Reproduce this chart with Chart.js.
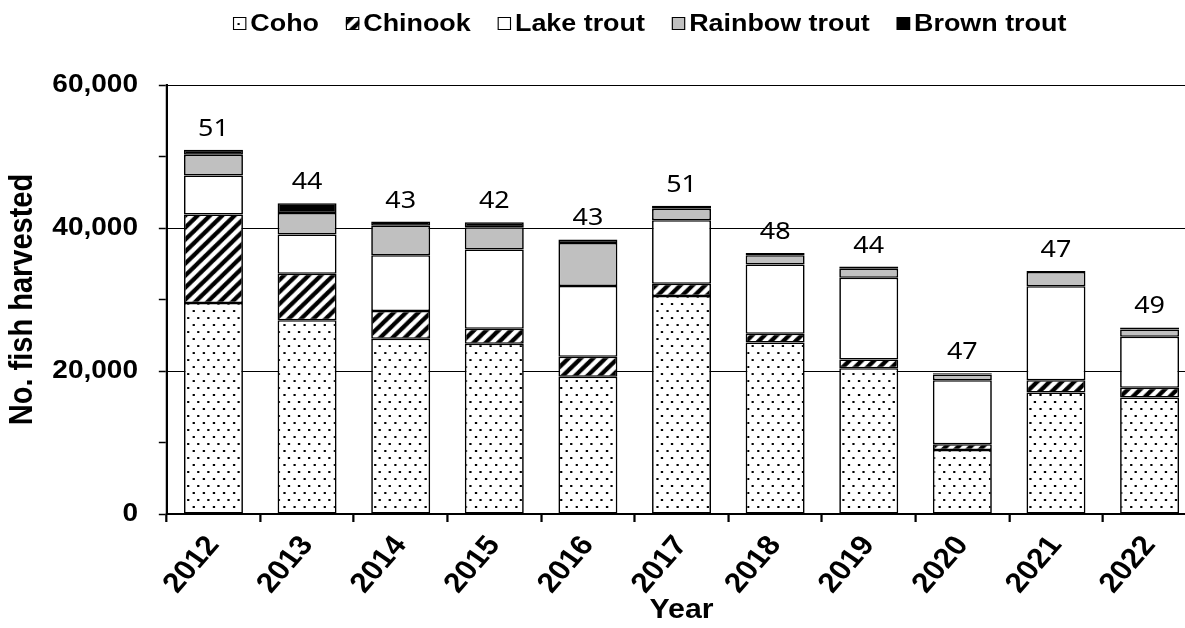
<!DOCTYPE html>
<html>
<head>
<meta charset="utf-8">
<title>No. fish harvested by species</title>
<script src="https://cdn.jsdelivr.net/npm/chart.js@4.4.1/dist/chart.umd.min.js"></script>
<style>
  html, body { margin: 0; padding: 0; background: #fff; overflow: hidden; }
  #wrap { width: 1185px; height: 628px; overflow: hidden; }
</style>
</head>
<body>
<div id="wrap"><canvas id="harvestChart" width="1185" height="628"></canvas></div>
<script>
// Values
const years = ['2012', '2013', '2014', '2015', '2016', '2017', '2018', '2019', '2020', '2021', '2022'];
const coho = [29500, 27100, 24500, 23800, 19200, 30500, 24000, 20400, 8950, 17000, 16300];
const chinook = [12400, 6500, 3900, 2100, 2800, 1700, 1200, 1200, 800, 1700, 1350];
const lakeTrout = [5450, 5500, 7800, 11100, 9900, 8900, 9700, 11450, 8950, 13150, 7150];
const rainbowTrout = [2900, 3000, 4100, 3100, 6000, 1600, 1300, 1250, 800, 2000, 1000];
const brownTrout = [700, 1350, 600, 700, 500, 400, 300, 300, 200, 150, 300];
const barTopLabels = [51, 44, 43, 42, 43, 51, 48, 44, 47, 47, 49];
const yLabelValues = [0, 20000, 40000, 60000];

// The picture is drawn a bit wider than it is tall
const X_STRETCH = 1.12;

Chart.defaults.font.family = '"Liberation Sans", Arial, sans-serif';
Chart.defaults.color = '#000';

// Fill patterns (Excel-like)
function makeDotPattern() {
  const c = document.createElement('canvas');
  c.width = 9;
  c.height = 14;
  const g = c.getContext('2d');
  g.fillStyle = '#fff';
  g.fillRect(0, 0, 9, 14);
  g.fillStyle = '#000';
  g.fillRect(1, 2, 2, 2);
  g.fillRect(5, 9, 2, 2);
  return g.createPattern(c, 'repeat');
}

function makeStripePattern() {
  const w = 11, h = 12;
  const c = document.createElement('canvas');
  c.width = w;
  c.height = h;
  const g = c.getContext('2d');
  g.fillStyle = '#fff';
  g.fillRect(0, 0, w, h);
  g.strokeStyle = '#000';
  g.lineWidth = 4;
  [-w, 0, w].forEach(dx => {
    g.beginPath();
    g.moveTo(dx - w * 0.3, h * 1.3);
    g.lineTo(dx + w * 1.3, -h * 0.3);
    g.stroke();
  });
  return g.createPattern(c, 'repeat');
}

// Stretch everything the chart draws horizontally
const stretchPlugin = {
  id: 'stretch',
  beforeDraw(chart) {
    const r = chart.currentDevicePixelRatio || 1;
    chart.ctx.save();
    chart.ctx.setTransform(r * X_STRETCH, 0, 0, r, 0, 0);
  },
  afterDraw(chart) {
    chart.ctx.restore();
  }
};

// Legend with small patterned boxes
const patternLegend = {
  id: 'patternLegend',
  afterDatasetsDraw(chart) {
    const ctx = chart.ctx;
    const y = 23.5;
    let x = 208;
    ctx.save();
    ctx.font = 'bold 24px "Liberation Sans", Arial, sans-serif';
    ctx.textBaseline = 'middle';
    ctx.textAlign = 'left';
    chart.data.datasets.forEach(ds => {
      ctx.fillStyle = ds.backgroundColor;
      ctx.fillRect(x, y - 6.5, 12, 13);
      ctx.strokeStyle = '#000';
      ctx.lineWidth = 1;
      ctx.strokeRect(x + 0.5, y - 6, 11, 12);
      ctx.fillStyle = '#000';
      ctx.fillText(ds.label, x + 15.5, y + 1);
      x += 15.5 + ctx.measureText(ds.label).width + 24;
    });
    ctx.restore();
  }
};

// Numbers written above each stacked bar
const barTopText = {
  id: 'barTopText',
  afterDatasetsDraw(chart) {
    const ctx = chart.ctx;
    const topMeta = chart.getDatasetMeta(chart.data.datasets.length - 1);
    ctx.save();
    ctx.font = '24px "Noto Sans", sans-serif';
    ctx.fillStyle = '#000';
    ctx.textAlign = 'center';
    ctx.textBaseline = 'alphabetic';
    topMeta.data.forEach((bar, i) => {
      ctx.fillText(String(barTopLabels[i]), bar.x, bar.y - 14);
    });
    ctx.restore();
  }
};

function barSet(label, data, fill) {
  return {
    label,
    data,
    backgroundColor: fill,
    borderColor: '#000',
    borderWidth: 1.5,
    borderSkipped: false,
    barPercentage: 0.63,
    categoryPercentage: 1
  };
}

const ctx = document.getElementById('harvestChart').getContext('2d');
const chart = new Chart(ctx, {
  type: 'bar',
  data: {
    labels: years,
    datasets: [
      barSet('Coho', coho, makeDotPattern()),
      barSet('Chinook', chinook, makeStripePattern()),
      barSet('Lake trout', lakeTrout, '#ffffff'),
      barSet('Rainbow trout', rainbowTrout, '#c0c0c0'),
      barSet('Brown trout', brownTrout, '#000000')
    ]
  },
  options: {
    responsive: false,
    animation: false,
    events: [],
    layout: { padding: { left: 0, right: 116.8, top: 85, bottom: 0 } },
    plugins: {
      legend: { display: false },
      tooltip: { enabled: false }
    },
    scales: {
      x: {
        stacked: true,
        border: { display: true, color: '#000', width: 2 },
        grid: {
          offset: true,
          drawOnChartArea: false,
          drawTicks: true,
          tickLength: 8,
          tickWidth: 2,
          tickColor: '#000'
        },
        ticks: {
          font: { size: 28, weight: 'bold' },
          color: '#000',
          minRotation: 52,
          maxRotation: 52,
          padding: 8,
          autoSkip: false
        },
        title: {
          display: true,
          text: 'Year',
          font: { size: 27, weight: 'bold' },
          color: '#000',
          padding: { top: 0, bottom: 1 }
        },
        afterFit(scale) { scale.height = 114; }
      },
      y: {
        stacked: true,
        min: 0,
        max: 60000,
        border: { display: true, color: '#000', width: 2 },
        grid: {
          color: c => (c.tick && yLabelValues.includes(c.tick.value) ? '#000' : 'rgba(0,0,0,0)'),
          lineWidth: 1,
          tickLength: 7,
          tickWidth: 1.5,
          tickColor: '#000'
        },
        ticks: {
          stepSize: 10000,
          font: { size: 25, weight: 'bold' },
          color: '#000',
          padding: 18.6,
          callback: v => (yLabelValues.includes(v) ? v.toLocaleString('en-US') : '')
        },
        title: {
          display: true,
          text: 'No. fish harvested',
          font: { size: 29, weight: 'bold' },
          color: '#000',
          padding: { top: 3, bottom: 0 }
        },
        afterFit(scale) { scale.width = 148.8; }
      }
    }
  },
  plugins: [patternLegend, barTopText, stretchPlugin]
});
</script>
</body>
</html>
